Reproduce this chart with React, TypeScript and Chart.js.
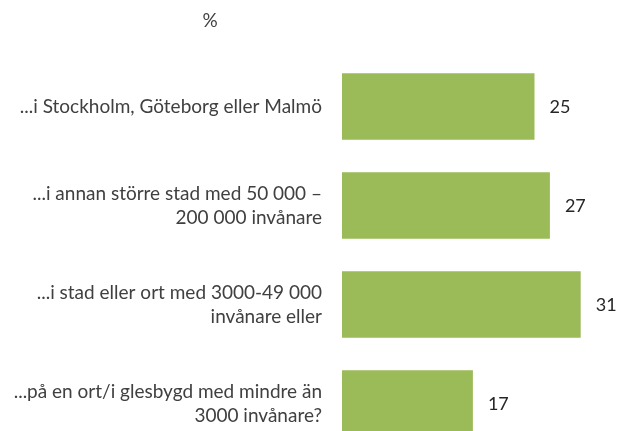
import React, { useEffect, useRef } from "react";
import { Chart, registerables } from "chart.js";

Chart.register(...registerables);

const categories: string[][] = [
  ["...i Stockholm, Göteborg eller Malmö"],
  ["...i annan större stad med 50 000 –", "200 000 invånare"],
  ["...i stad eller ort med 3000-49 000", "invånare eller"],
  ["...på en ort/i glesbygd med mindre än", "3000 invånare?"],
];
const values: number[] = [25, 27, 31, 17];
const unitLabel = "%";

const FONT = "Lato, 'Open Sans', sans-serif";

export default function App() {
  const ref = useRef<HTMLCanvasElement | null>(null);
  useEffect(() => {
    if (!ref.current) return;
    const valueLabels = {
      id: "valueLabels",
      afterDatasetsDraw(chart: any) {
        const ctx = chart.ctx;
        const meta = chart.getDatasetMeta(0);
        ctx.save();
        ctx.font = `18px ${FONT}`;
        ctx.fillStyle = "#262626";
        ctx.textAlign = "left";
        ctx.textBaseline = "middle";
        meta.data.forEach((bar: any, i: number) => {
          ctx.fillText(String(values[i]), bar.x + 15, bar.y + 1);
        });
        ctx.font = `19px ${FONT}`;
        ctx.fillStyle = "#404040";
        ctx.textAlign = "center";
        ctx.fillText(unitLabel, 210, 21);
        ctx.restore();
      },
    };
    const chart = new Chart(ref.current, {
      type: "bar",
      data: {
        labels: categories,
        datasets: [
          {
            data: values,
            backgroundColor: "#9BBB59",
            borderWidth: 0,
            categoryPercentage: 0.673,
            barPercentage: 1,
          },
        ],
      },
      options: {
        indexAxis: "y",
        animation: false,
        responsive: false,
        maintainAspectRatio: false,
        layout: { padding: { top: 57, bottom: 8, left: 0, right: 9.5 } },
        plugins: { legend: { display: false }, tooltip: { enabled: false } },
        scales: {
          x: { display: false, min: 0, max: 35 },
          y: {
            grid: { display: false, drawTicks: false },
            border: { display: false },
            ticks: {
              padding: 20,
              color: "#404040",
              font: { family: FONT, size: 19, lineHeight: 1.27 },
            },
            afterFit: (scale: any) => {
              scale.width = 342;
              scale.paddingTop = 0;
              scale.paddingBottom = 0;
            },
          },
        },
      },
      plugins: [valueLabels],
    });
    return () => chart.destroy();
  }, []);
  return (
    <div style={{ position: "fixed", left: 0, top: 0, width: 621, height: 431, overflow: "hidden", background: "#fff" }}>
      <canvas ref={ref} width={621} height={461} style={{ display: "block" }} />
    </div>
  );
}
